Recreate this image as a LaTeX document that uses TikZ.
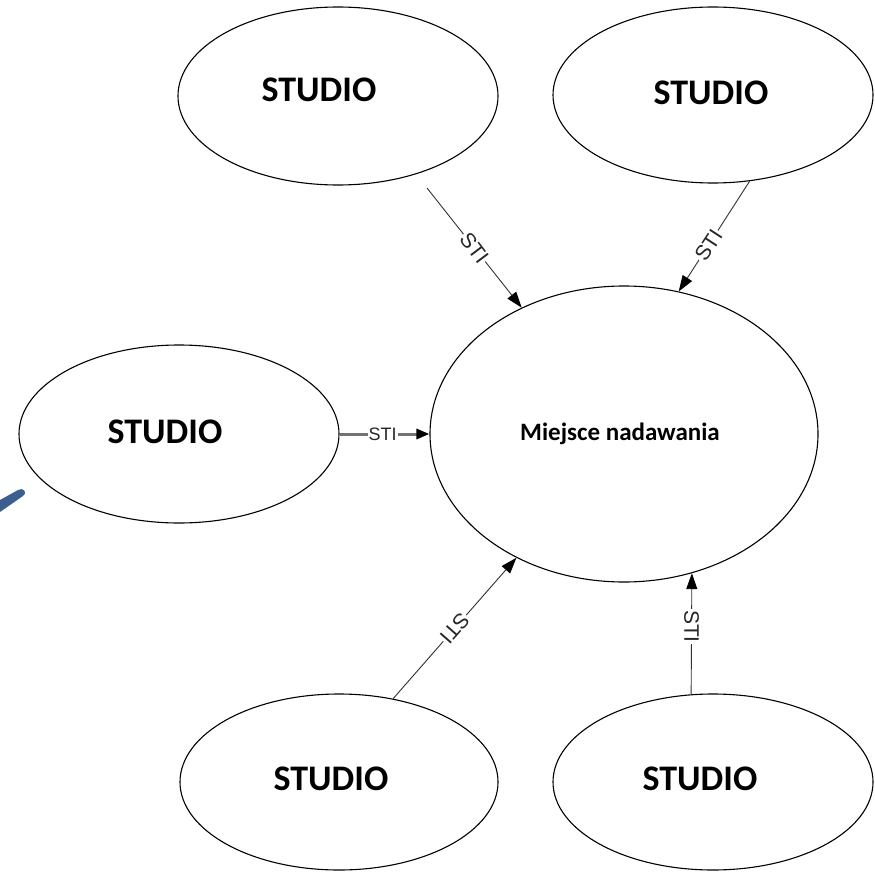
\documentclass[tikz,border=0pt]{standalone}
\usepackage{fontspec}
\setmainfont{Carlito}
\newfontfamily\labelfont{Liberation Sans}
\usetikzlibrary{shapes.geometric,arrows.meta}
\definecolor{brush}{HTML}{3B5F8E}
\begin{document}
\begin{tikzpicture}[x=1pt,y=-1pt,
  oval/.style={ellipse,draw=black,line width=1.1pt,inner sep=0pt},
  studiotext/.style={anchor=base,font=\fontsize{36}{36}\selectfont\bfseries},
  conn/.style={draw=black!80,line width=0.9pt,-{Triangle[length=16pt,width=11pt,color=black]}},
  connthick/.style={draw=black!55,line width=3pt,-{Triangle[length=13pt,width=10pt,color=black]}},
  sti/.style={font=\labelfont\fontsize{21}{21}\selectfont,fill=white,inner sep=1pt,text=black!85},
  stismall/.style={sti,font=\labelfont\fontsize{18}{18}\selectfont}]
\useasboundingbox (0,0) rectangle (875,872);
\fill[white] (0,0) rectangle (875,872);
% ellipses
\node[oval,minimum width=320pt,minimum height=178pt] (tl) at (338,96) {};
\node[oval,minimum width=320pt,minimum height=176pt] (tr) at (713,95) {};
\node[oval,minimum width=320pt,minimum height=178pt] (ls) at (179,434) {};
\node[oval,minimum width=388pt,minimum height=296pt] (big) at (624,434) {};
\node[oval,minimum width=318pt,minimum height=176pt] (bl) at (339,782) {};
\node[oval,minimum width=320pt,minimum height=176pt] (br) at (713,782) {};
% texts
\node[studiotext] (tlt) at (319,102) {STUDIO};
\node[studiotext] (trt) at (711,105) {STUDIO};
\node[studiotext] (lst) at (165,443) {STUDIO};
\node[studiotext] (blt) at (331,790) {STUDIO};
\node[studiotext] (brt) at (700,790) {STUDIO};
\node[anchor=base,font=\fontsize{25}{25}\selectfont\bfseries] (bigt) at (620,440) {Miejsce nadawania};
% connectors
\coordinate (tls) at (427,188);
\draw[conn] (tls) -- node[sti,rotate=-53,pos=0.5] (l1) {STI} (big.129.9);
\draw[conn] (tr.-67.2) -- node[sti,rotate=56.8,pos=0.58] (l2) {STI} (big.69.2);
\draw[connthick] (ls.east) -- node[stismall,pos=0.48] (l3) {STI} (big.west);
\draw[conn] (bl.57) -- node[sti,rotate=228.7,pos=0.5] (l4) {STI} (big.-131.1);
\draw[conn] (br.104.2) -- node[sti,rotate=-90,pos=0.56] (l5) {STI} (big.-64.1);
% blue brush stroke
\fill[brush] (0,500) -- (18,490) .. controls (23,487) and (28,492) .. (23,496) -- (0,512) -- cycle;
\end{tikzpicture}
\end{document}
